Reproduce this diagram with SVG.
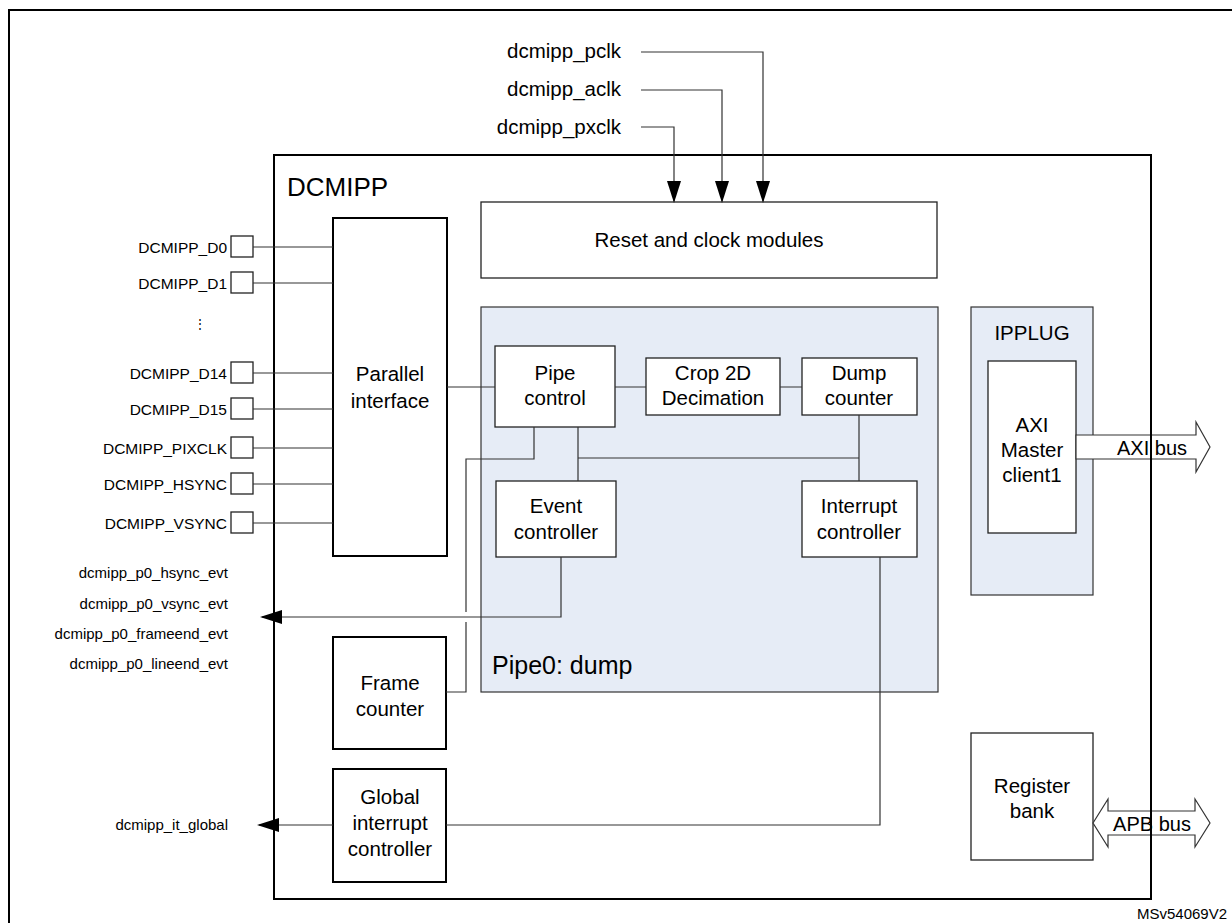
<svg xmlns="http://www.w3.org/2000/svg" width="1232" height="923" viewBox="0 0 1232 923">
<style>
text{font-family:"Liberation Sans",Arial,sans-serif;fill:#000}
.b{fill:#fff;stroke:#222;stroke-width:1.3}
.bb{fill:#fff;stroke:#000;stroke-width:2}
.l{fill:none;stroke:#333;stroke-width:1.2}
.c{font-size:20.5px;text-anchor:middle}
.p{font-size:15.5px;text-anchor:end}
.e{font-size:15px;text-anchor:end}
.k{font-size:20.5px;text-anchor:end}
</style>
<defs>
<marker id="a2" markerWidth="22" markerHeight="14" refX="20" refY="7" orient="auto" markerUnits="userSpaceOnUse" viewBox="0 0 22 14"><path d="M0,0L22,7L0,14z" fill="#000"/></marker>
</defs>
<path d="M9,923V10H1232" fill="none" stroke="#000" stroke-width="2"/>
<g id="dcmipp"><rect x="274" y="155" width="877" height="744" fill="none" stroke="#000" stroke-width="2"/><text x="287" y="196" font-size="26">DCMIPP</text></g>
<g id="pipe0"><rect x="481" y="307" width="457" height="385" fill="#e6ecf6" stroke="#333" stroke-width="1.2"/><text x="492" y="674" font-size="25">Pipe0: dump</text></g>
<g id="ipplug"><rect x="971" y="307" width="122" height="288" fill="#e6ecf6" stroke="#333" stroke-width="1.2"/><text class="c" x="1032" y="340">IPPLUG</text></g>
<g id="clocks">
<text class="k" x="621" y="58">dcmipp_pclk</text>
<text class="k" x="621" y="96">dcmipp_aclk</text>
<text class="k" x="621" y="134">dcmipp_pxclk</text>
</g>
<g id="pins">
<text class="p" x="227" y="253">DCMIPP_D0</text>
<text class="p" x="227" y="289">DCMIPP_D1</text>
<text class="p" x="227" y="379">DCMIPP_D14</text>
<text class="p" x="227" y="415">DCMIPP_D15</text>
<text class="p" x="227" y="454">DCMIPP_PIXCLK</text>
<text class="p" x="227" y="490">DCMIPP_HSYNC</text>
<text class="p" x="227" y="529">DCMIPP_VSYNC</text>
<text x="200" y="328" font-size="12" text-anchor="middle">⋮</text>
<rect class="b" x="231" y="236" width="22" height="21"/>
<rect class="b" x="231" y="272" width="22" height="21"/>
<rect class="b" x="231" y="362" width="22" height="21"/>
<rect class="b" x="231" y="398" width="22" height="21"/>
<rect class="b" x="231" y="437" width="22" height="21"/>
<rect class="b" x="231" y="473" width="22" height="21"/>
<rect class="b" x="231" y="512" width="22" height="21"/>
<text class="e" x="228" y="578">dcmipp_p0_hsync_evt</text>
<text class="e" x="228" y="609">dcmipp_p0_vsync_evt</text>
<text class="e" x="228" y="639">dcmipp_p0_frameend_evt</text>
<text class="e" x="228" y="669">dcmipp_p0_lineend_evt</text>
<text class="e" x="228" y="830">dcmipp_it_global</text>
</g>
<g id="reset"><rect class="b" x="481" y="202" width="456" height="76"/><text class="c" x="709" y="247">Reset and clock modules</text></g>
<g id="parallel"><rect class="bb" x="333" y="218" width="114" height="338"/><text class="c" x="390" y="381">Parallel</text><text class="c" x="390" y="408">interface</text></g>
<g id="frame"><rect class="bb" x="333" y="637" width="113" height="112"/><text class="c" x="390" y="690">Frame</text><text class="c" x="390" y="716">counter</text></g>
<g id="global"><rect class="bb" x="333" y="769" width="113" height="113"/><text class="c" x="390" y="804">Global</text><text class="c" x="390" y="830">interrupt</text><text class="c" x="390" y="856">controller</text></g>
<g id="pipectrl"><rect class="b" x="495" y="346" width="120" height="81"/><text class="c" x="555" y="380">Pipe</text><text class="c" x="555" y="405">control</text></g>
<g id="crop"><rect class="b" x="646" y="358" width="134" height="57"/><text class="c" x="713" y="380">Crop 2D</text><text class="c" x="713" y="405">Decimation</text></g>
<g id="dump"><rect class="b" x="802" y="358" width="115" height="57"/><text class="c" x="859" y="380">Dump</text><text class="c" x="859" y="405">counter</text></g>
<g id="event"><rect class="b" x="496" y="481" width="120" height="76"/><text class="c" x="556" y="513">Event</text><text class="c" x="556" y="539">controller</text></g>
<g id="interrupt"><rect class="b" x="802" y="481" width="115" height="76"/><text class="c" x="859" y="513">Interrupt</text><text class="c" x="859" y="539">controller</text></g>
<g id="axi"><rect class="b" x="988" y="361" width="88" height="172"/><text class="c" x="1032" y="432">AXI</text><text class="c" x="1032" y="457">Master</text><text class="c" x="1032" y="482">client1</text></g>
<g id="regbank"><rect class="b" x="971" y="733" width="122" height="127"/><text class="c" x="1032" y="793">Register</text><text class="c" x="1032" y="818">bank</text></g>
<g id="connectors">
<path class="l" d="M641,52H763V201" marker-end="url(#a2)"/>
<path class="l" d="M641,90H722V201" marker-end="url(#a2)"/>
<path class="l" d="M641,127H674V201" marker-end="url(#a2)"/>
<path class="l" d="M253,247H333M253,283H333M253,373H333M253,409H333M253,448H333M253,484H333M253,523H333"/>
<path class="l" d="M447,387H495M615,387H646M780,387H802"/>
<path class="l" d="M578,427V481M578,458H859M859,415V481"/>
<path class="l" d="M534,427V459H466V612M466,622V692H446"/>
<path class="l" d="M561,557V617H262" marker-end="url(#a2)"/>
<path class="l" d="M880,557V825H446"/>
<path class="l" d="M333,825H259" marker-end="url(#a2)"/>
<path d="M1076,435H1196V422L1210,447L1196,472V459H1076z" fill="#fff" stroke="#333" stroke-width="1.2"/>
<text x="1152" y="455" font-size="20" text-anchor="middle">AXI bus</text>
<path d="M1093,823L1108,799V811H1195V799L1210,823L1195,847V835H1108V847z" fill="#fff" stroke="#333" stroke-width="1.2"/>
<text x="1152" y="831" font-size="20" text-anchor="middle">APB bus</text>
<line x1="1151" y1="420" x2="1151" y2="475" stroke="#000" stroke-width="2"/>
<line x1="1151" y1="797" x2="1151" y2="850" stroke="#000" stroke-width="2"/>
</g>
<text x="1137" y="919" font-size="15">MSv54069V2</text>
</svg>
